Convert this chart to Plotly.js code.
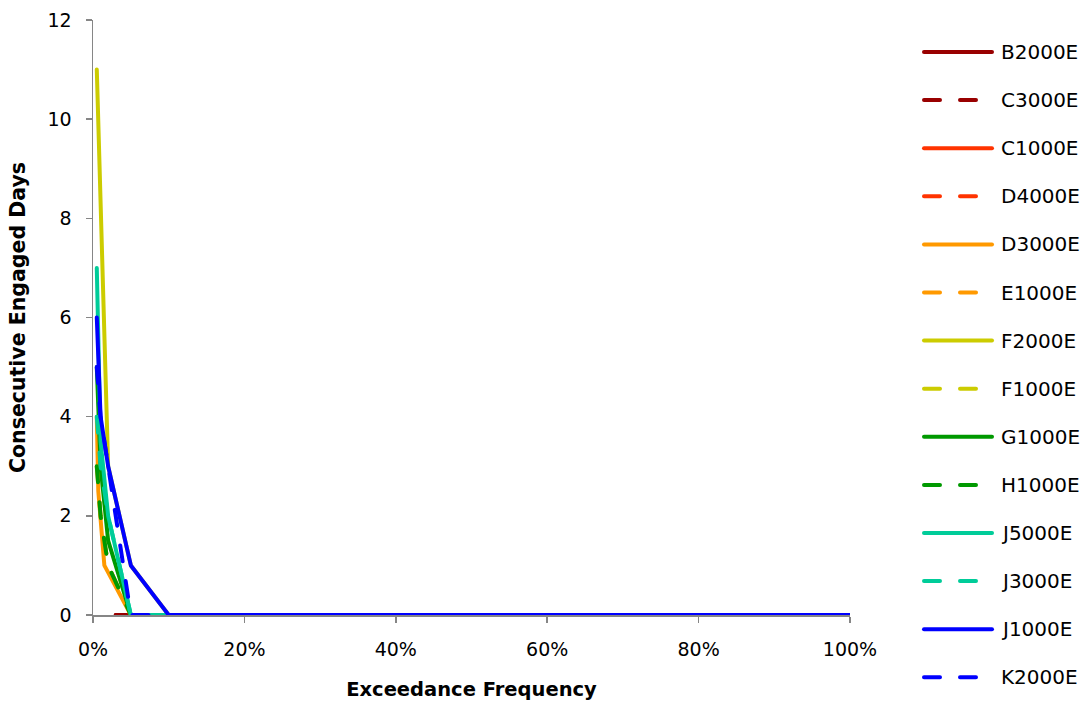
<!DOCTYPE html>
<html>
<head>
<meta charset="utf-8">
<script src="https://cdn.plot.ly/plotly-3.0.1.min.js"></script>
<style>
  html, body { margin: 0; padding: 0; background: #fff; }
  #chart { width: 1089px; height: 706px; }
  .js-line, .shapelayer path { stroke-linecap: round; stroke-linejoin: round; }
</style>
</head>
<body>
<div id="chart"></div>
<script>
// Exceedance frequency (fraction) and consecutive engaged days per run
const seriesNames = ['B2000E', 'C3000E', 'C1000E', 'D4000E', 'D3000E', 'E1000E', 'F2000E',
                     'F1000E', 'G1000E', 'H1000E', 'J5000E', 'J3000E', 'J1000E', 'K2000E'];
const seriesColors = ['#990000', '#990000', '#FF3300', '#FF3300', '#FF9900', '#FF9900', '#CCCC00',
                      '#CCCC00', '#009900', '#009900', '#00CC99', '#00CC99', '#0000FF', '#0000FF'];
const seriesDashed = [false, true, false, true, false, true, false,
                      true, false, true, false, true, false, true];

const freqB2000E = [0.03, 0.05, 0.1, 0.2, 0.5, 1.0];
const daysB2000E = [0, 0, 0, 0, 0, 0];
const freqC3000E = [0.03, 0.05, 0.1, 0.2, 0.5, 1.0];
const daysC3000E = [0, 0, 0, 0, 0, 0];
const freqC1000E = [0.05, 0.1, 0.2, 0.5, 1.0];
const daysC1000E = [0, 0, 0, 0, 0];
const freqD4000E = [0.05, 0.1, 0.2, 0.5, 1.0];
const daysD4000E = [0, 0, 0, 0, 0];
const freqD3000E = [0.005, 0.007, 0.015, 0.05, 0.1, 0.2, 0.5, 1.0];
const daysD3000E = [4, 2.5, 1, 0, 0, 0, 0, 0];
const freqE1000E = [0.005, 0.01, 0.02, 0.05, 0.1, 0.2, 0.5, 1.0];
const daysE1000E = [3, 2, 1, 0, 0, 0, 0, 0];
const freqF2000E = [0.005, 0.02, 0.05, 0.1, 0.2, 0.5, 1.0];
const daysF2000E = [11, 3, 1, 0, 0, 0, 0];
const freqF1000E = [0.05, 0.1, 0.2, 0.5, 1.0];
const daysF1000E = [0, 0, 0, 0, 0];
const freqG1000E = [0.005, 0.01, 0.02, 0.05, 0.1, 0.2, 0.5, 1.0];
const daysG1000E = [5, 3, 1.5, 0, 0, 0, 0, 0];
const freqH1000E = [0.005, 0.01, 0.02, 0.05, 0.1, 0.2, 0.5, 1.0];
const daysH1000E = [3, 2, 1, 0, 0, 0, 0, 0];
const freqJ5000E = [0.005, 0.01, 0.02, 0.05, 0.1, 0.2, 0.5, 1.0];
const daysJ5000E = [7, 3.5, 2, 0, 0, 0, 0, 0];
const freqJ3000E = [0.005, 0.01, 0.02, 0.05, 0.1, 0.2, 0.5, 1.0];
const daysJ3000E = [4, 3, 2, 0, 0, 0, 0, 0];
const freqJ1000E = [0.005, 0.01, 0.02, 0.05, 0.1, 0.2, 0.5, 1.0];
const daysJ1000E = [6, 4, 3, 1, 0, 0, 0, 0];
const freqK2000E = [0.005, 0.01, 0.02, 0.05, 0.1, 0.2, 0.5, 1.0];
const daysK2000E = [5, 4, 3, 0, 0, 0, 0, 0];

const xTickVals = [0, 0.2, 0.4, 0.6, 0.8, 1.0];
const xTickText = ['0%', '20%', '40%', '60%', '80%', '100%'];
const yTickVals = [0, 2, 4, 6, 8, 10, 12];

const freqs = [freqB2000E, freqC3000E, freqC1000E, freqD4000E, freqD3000E, freqE1000E, freqF2000E,
               freqF1000E, freqG1000E, freqH1000E, freqJ5000E, freqJ3000E, freqJ1000E, freqK2000E];
const days = [daysB2000E, daysC3000E, daysC1000E, daysD4000E, daysD3000E, daysE1000E, daysF2000E,
              daysF1000E, daysG1000E, daysH1000E, daysJ5000E, daysJ3000E, daysJ1000E, daysK2000E];

const DASH = '16px,20px';
const LINE_W = 4;

const traces = seriesNames.map((name, i) => ({
  type: 'scatter',
  mode: 'lines',
  name: name,
  x: freqs[i],
  y: days[i],
  cliponaxis: false,
  showlegend: false,
  line: { color: seriesColors[i], width: LINE_W, dash: seriesDashed[i] ? DASH : 'solid' }
}));

// Plot area geometry in pixels (used to place the legend column)
const W = 1089, H = 706;
const M = { l: 93, r: 239, t: 20, b: 91 };
const plotW = W - M.l - M.r, plotH = H - M.t - M.b;
const px2x = px => (px - M.l) / plotW;
const py2y = py => (H - M.b - py) / plotH;

const shapes = [];
const annotations = [];
const legendTop = 52, legendStep = 48.1;
seriesNames.forEach((name, i) => {
  const yy = py2y(legendTop + i * legendStep);
  shapes.push({
    type: 'line', xref: 'paper', yref: 'paper',
    x0: px2x(924), x1: px2x(992), y0: yy, y1: yy,
    line: { color: seriesColors[i], width: LINE_W, dash: seriesDashed[i] ? DASH : 'solid' }
  });
  annotations.push({
    xref: 'paper', yref: 'paper', x: px2x(999), y: yy,
    xanchor: 'left', yanchor: 'middle', showarrow: false,
    text: name, font: { family: 'DejaVu Sans', size: 20, color: '#000' }
  });
});

const axisCommon = {
  showgrid: false, zeroline: false,
  showline: true, linecolor: '#868686', linewidth: 1.5,
  ticks: 'outside', ticklen: 6, tickwidth: 1.5, tickcolor: '#868686',
  tickfont: { family: 'DejaVu Sans', size: 19, color: '#000' },
  layer: 'below traces', fixedrange: true
};

const layout = {
  width: W, height: H,
  margin: M,
  paper_bgcolor: '#fff', plot_bgcolor: '#fff',
  showlegend: false,
  xaxis: Object.assign({}, axisCommon, {
    range: [0, 1], tickvals: xTickVals, ticktext: xTickText,
    ticklabelstandoff: 11,
    title: { text: 'Exceedance Frequency', font: { family: 'DejaVu Sans', size: 19.5, color: '#000', weight: 'bold' }, standoff: 23 },
    automargin: false
  }),
  yaxis: Object.assign({}, axisCommon, {
    range: [0, 12], tickvals: yTickVals,
    ticklabelstandoff: 10,
    title: { text: 'Consecutive Engaged Days', font: { family: 'DejaVu Sans', size: 20.5, color: '#000', weight: 'bold' }, standoff: 16 },
    automargin: false
  }),
  shapes: shapes,
  annotations: annotations
};

Plotly.newPlot('chart', traces, layout, { staticPlot: true, displayModeBar: false });
</script>
</body>
</html>
